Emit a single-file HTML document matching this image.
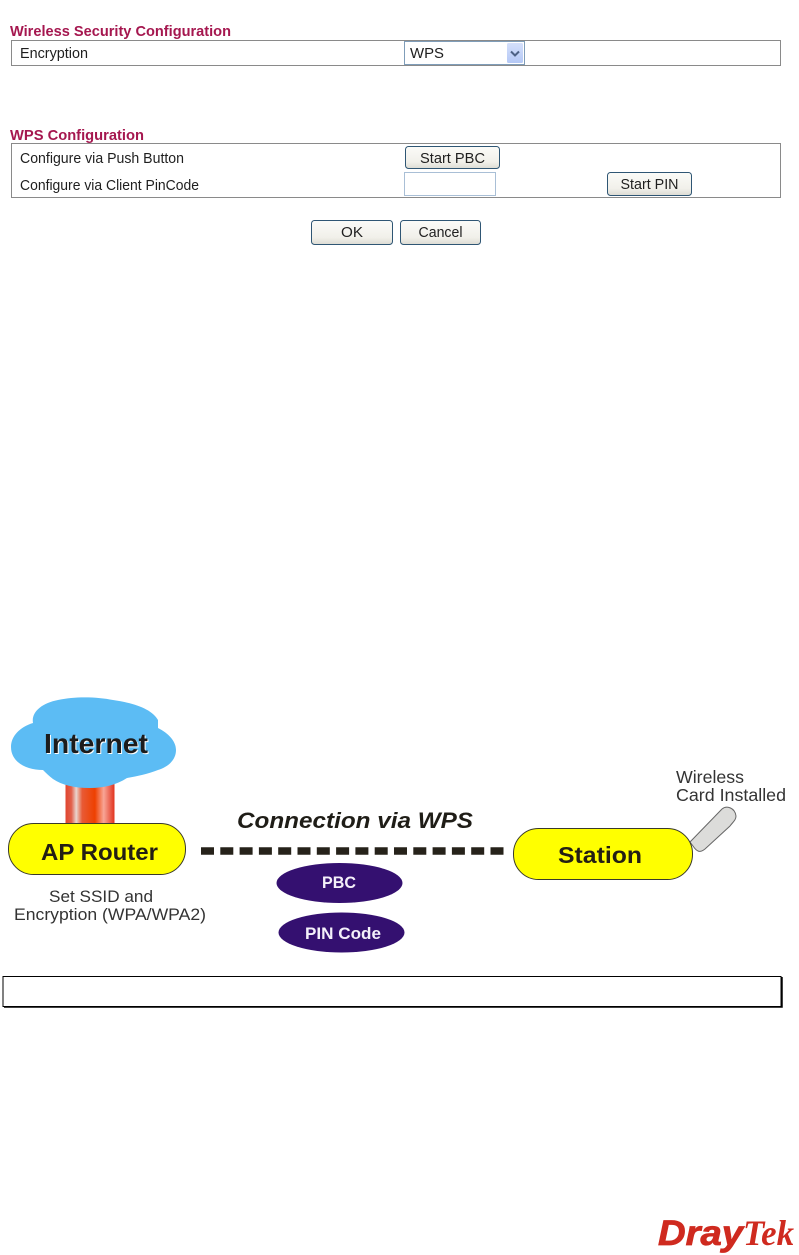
<!DOCTYPE html>
<html>
<head>
<meta charset="utf-8">
<style>
html,body{margin:0;padding:0;background:#fff}
svg{display:block}
text{font-family:"Liberation Sans",sans-serif}
</style>
</head>
<body>
<svg width="799" height="1255" viewBox="0 0 799 1255" xmlns="http://www.w3.org/2000/svg">
<defs>
<linearGradient id="btn" x1="0" y1="0" x2="0" y2="1">
<stop offset="0" stop-color="#fbfbf8"/><stop offset="0.7" stop-color="#f1f0ea"/><stop offset="1" stop-color="#dcdbd3"/>
</linearGradient>
<linearGradient id="pipe" x1="0" y1="0" x2="1" y2="0">
<stop offset="0" stop-color="#e0452f"/><stop offset="0.12" stop-color="#e2604a"/><stop offset="0.22" stop-color="#e9d4ce"/><stop offset="0.34" stop-color="#e85a35"/>
<stop offset="0.6" stop-color="#ee4000"/><stop offset="0.78" stop-color="#f8a596"/><stop offset="1" stop-color="#e2331e"/>
</linearGradient>
<linearGradient id="arrowbtn" x1="0" y1="0" x2="0" y2="1">
<stop offset="0" stop-color="#d5e0fb"/><stop offset="1" stop-color="#b4c8f6"/>
</linearGradient>
</defs>

<!-- Wireless Security Configuration -->
<text x="10" y="36" font-size="15" font-weight="bold" fill="#a5174f" textLength="221" lengthAdjust="spacingAndGlyphs">Wireless Security Configuration</text>
<rect x="11.500" y="40.500" width="769" height="25" fill="#fff" stroke="#8a8a8a"/>
<text x="20" y="58" font-size="14.500" fill="#1f1f1f" textLength="68" lengthAdjust="spacingAndGlyphs">Encryption</text>
<rect x="404.500" y="41.500" width="120" height="23" fill="#fff" stroke="#7f9db9"/>
<text x="410" y="58" font-size="14.500" fill="#1f1f1f" textLength="34" lengthAdjust="spacingAndGlyphs">WPS</text>
<rect x="507" y="43" width="16" height="20" rx="1.500" fill="url(#arrowbtn)"/>
<path d="M511 51.500l4 4 4-4" fill="none" stroke="#4d6185" stroke-width="2"/>

<!-- WPS Configuration -->
<text x="10" y="140" font-size="15" font-weight="bold" fill="#a5174f" textLength="134" lengthAdjust="spacingAndGlyphs">WPS Configuration</text>
<rect x="11.500" y="143.500" width="769" height="54" fill="#fff" stroke="#8a8a8a"/>
<text x="20" y="163" font-size="14.500" fill="#1f1f1f" textLength="164" lengthAdjust="spacingAndGlyphs">Configure via Push Button</text>
<text x="20" y="190" font-size="14.500" fill="#1f1f1f" textLength="179" lengthAdjust="spacingAndGlyphs">Configure via Client PinCode</text>

<rect x="405.500" y="146.500" width="94" height="22" rx="3" fill="url(#btn)" stroke="#2f5674"/>
<text x="452.500" y="163" font-size="14.500" fill="#1f1f1f" text-anchor="middle" textLength="65" lengthAdjust="spacingAndGlyphs">Start PBC</text>
<rect x="404.500" y="172.500" width="91" height="23" fill="#fff" stroke="#a9bfd6"/>
<rect x="607.500" y="172.500" width="84" height="23" rx="3" fill="url(#btn)" stroke="#2f5674"/>
<text x="649.500" y="189" font-size="14.500" fill="#1f1f1f" text-anchor="middle" textLength="58" lengthAdjust="spacingAndGlyphs">Start PIN</text>

<rect x="311.500" y="220.500" width="81" height="24" rx="3" fill="url(#btn)" stroke="#2f5674"/>
<text x="352" y="237" font-size="14.500" fill="#1f1f1f" text-anchor="middle" textLength="22" lengthAdjust="spacingAndGlyphs">OK</text>
<rect x="400.500" y="220.500" width="80" height="24" rx="3" fill="url(#btn)" stroke="#2f5674"/>
<text x="440.500" y="237" font-size="14.500" fill="#1f1f1f" text-anchor="middle" textLength="44" lengthAdjust="spacingAndGlyphs">Cancel</text>

<!-- Pipe -->
<rect x="65.500" y="780" width="49" height="45" fill="url(#pipe)"/>

<!-- Cloud -->
<path d="M33 723C31 712 42 703 58 700C76 696 98 697 113 700C134 703 152 709 158 720C158 724 158 726 158 728C168 733 176 741 176 750C176 760 168 767 158 770C148 774 138 776 127 778C116 785 104 788 90 788C74 788 62 785 53 779C49 776 46 773 43 770C26 770 11 762 11 747C11 736 20 727 33 723Z" fill="#5cbcf4"/>
<text x="45" y="754" font-size="28" font-weight="bold" fill="#fff" textLength="104" lengthAdjust="spacingAndGlyphs">Internet</text>
<text x="44" y="753" font-size="28" font-weight="bold" fill="#1c1c1c" textLength="104" lengthAdjust="spacingAndGlyphs">Internet</text>

<!-- AP Router -->
<rect x="8.500" y="823.500" width="177" height="51" rx="25" ry="25" fill="#ffff00" stroke="#3a3a2a"/>
<text x="41" y="860" font-size="23" font-weight="bold" fill="#231f14" textLength="117" lengthAdjust="spacingAndGlyphs">AP Router</text>
<text x="49" y="902" font-size="17" fill="#333" textLength="104" lengthAdjust="spacingAndGlyphs">Set SSID and</text>
<text x="14" y="920" font-size="17" fill="#333" textLength="192" lengthAdjust="spacingAndGlyphs">Encryption (WPA/WPA2)</text>

<!-- Connection -->
<text x="237" y="828" font-size="22" font-weight="bold" font-style="italic" fill="#1f1d17" textLength="236" lengthAdjust="spacingAndGlyphs">Connection via WPS</text>
<line x1="201" y1="851" x2="505" y2="851" stroke="#26221a" stroke-width="7.500" stroke-dasharray="13 6.300"/>

<ellipse cx="339.500" cy="883" rx="63" ry="20" fill="#341070"/>
<text x="322" y="888" font-size="17" font-weight="bold" fill="#f4f0fa" textLength="34" lengthAdjust="spacingAndGlyphs">PBC</text>
<ellipse cx="341.500" cy="932.500" rx="63" ry="20" fill="#341070"/>
<text x="305" y="939" font-size="17" font-weight="bold" fill="#f4f0fa" textLength="76" lengthAdjust="spacingAndGlyphs">PIN Code</text>

<!-- Station -->
<path d="M690 842L722 809C727 805 735 808 736 816C736 820 733 822 730 826L705 849C700 853 697 852 693 846Z" fill="#dcdcda" stroke="#666" stroke-width="1"/>
<rect x="513.500" y="828.500" width="179" height="51" rx="25" ry="25" fill="#ffff00" stroke="#3a3a2a"/>
<text x="558" y="863" font-size="23" font-weight="bold" fill="#231f14" textLength="84" lengthAdjust="spacingAndGlyphs">Station</text>
<text x="676" y="783" font-size="17.500" fill="#333" textLength="68" lengthAdjust="spacingAndGlyphs">Wireless</text>
<text x="676" y="801" font-size="17.500" fill="#333" textLength="110" lengthAdjust="spacingAndGlyphs">Card Installed</text>

<!-- Empty caption box -->
<rect x="3" y="976.500" width="778" height="30" fill="#fff" stroke="#000" stroke-width="1"/>
<path d="M4 1007H782V977" fill="none" stroke="#000" stroke-width="1.500"/>

<!-- Logo -->
<text x="658" y="1245" font-size="35" font-weight="bold" font-style="italic" fill="#cf2a1f" stroke="#cf2a1f" stroke-width="0.800" textLength="85" lengthAdjust="spacingAndGlyphs">Dray</text>
<text x="743" y="1245" font-size="36" font-style="italic" font-weight="bold" fill="#cf2a1f" style="font-family:'Liberation Serif',serif" textLength="51" lengthAdjust="spacingAndGlyphs">Tek</text>
</svg>
</body>
</html>
